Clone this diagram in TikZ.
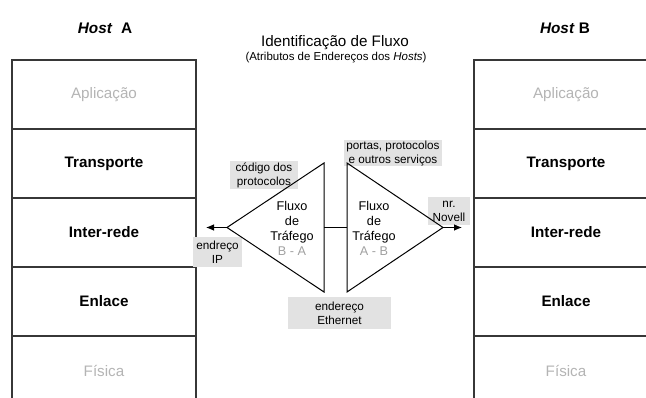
\documentclass[tikz,border=0pt]{standalone}
\usepackage{fontspec}
\setmainfont{Liberation Sans}
\usetikzlibrary{arrows.meta}

\definecolor{layerline}{RGB}{55,55,55}
\definecolor{fadedtext}{RGB}{180,180,180}
\definecolor{dirtext}{RGB}{160,160,160}
\definecolor{tagfill}{RGB}{226,226,226}

\begin{document}
\begin{tikzpicture}[x=0.75pt,y=0.75pt,yscale=-1,
  layer/.style={draw=layerline,line width=0.9,minimum width=138pt,minimum height=51.75pt,inner sep=0pt,font=\fontsize{11.4}{13}\selectfont},
  tag/.style={fill=tagfill,inner sep=0pt,align=center,font=\fontsize{8.8}{10.5}\selectfont},
  flow/.style={align=center,font=\fontsize{9.5}{11.25}\selectfont},
  host/.style={font=\fontsize{11.5}{13}\selectfont\bfseries}]
\useasboundingbox (0,0) rectangle (646,398);
\clip (0,0) rectangle (646,398);

% Host A
\node[host] (hostA) at (105,28) {\textit{Host}\ \ A};
\node[layer,text=fadedtext] (aplA) at (104,94.5) {Aplicação};
\node[layer,font=\fontsize{11.4}{13}\selectfont\bfseries] (trpA) at (104,163.5) {Transporte};
\node[layer,font=\fontsize{11.4}{13}\selectfont\bfseries] (irdA) at (104,232.5) {Inter-rede};
\node[layer,font=\fontsize{11.4}{13}\selectfont\bfseries] (enlA) at (104,301.5) {Enlace};
\node[layer,text=fadedtext] (fisA) at (104,370.5) {Física};

% Host B
\node[host] (hostB) at (565,28) {\textit{Host} B};
\node[layer,text=fadedtext] (aplB) at (566,94.5) {Aplicação};
\node[layer,font=\fontsize{11.4}{13}\selectfont\bfseries] (trpB) at (566,163.5) {Transporte};
\node[layer,font=\fontsize{11.4}{13}\selectfont\bfseries] (irdB) at (566,232.5) {Inter-rede};
\node[layer,font=\fontsize{11.4}{13}\selectfont\bfseries] (enlB) at (566,301.5) {Enlace};
\node[layer,text=fadedtext] (fisB) at (566,370.5) {Física};

% Text Node
\node[font=\fontsize{11.4}{13}\selectfont] (title) at (335,43) {Identificação de Fluxo};
\node[font=\fontsize{8.6}{10}\selectfont] (subtitle) at (336,58) {(Atributos de Endereços dos \textit{Hosts})};

% grey address tags
\node[tag,minimum width=51pt,minimum height=21pt] (tagProto) at (264,175) {código dos\\protocolos};
\node[tag,minimum width=74pt,minimum height=19.5pt] (tagPorts) at (393,153) {portas, protocolos\\e outros serviços};
\node[tag,minimum width=31.5pt,minimum height=21pt] (tagNovell) at (449,211) {nr.\\Novell};
\node[tag,minimum width=37pt,minimum height=22.5pt] (tagIP) at (217.5,252) {endreço\\IP};
\node[tag,minimum width=77pt,minimum height=24pt] (tagEth) at (339.5,313) {endereço\\Ethernet};

% triangles
\coordinate (apexBA) at (227,227.5);
\coordinate (baseBA) at (324,227.5);
\coordinate (apexAB) at (443,227.5);
\coordinate (baseAB) at (347,227.5);
\coordinate (tipIP) at (206,227.5);
\coordinate (tipNovell) at (462,227.5);
\draw[line width=0.75] (apexBA) -- (324,163) -- (324,292) -- cycle;
\draw[line width=0.75] (apexAB) -- (347,163) -- (347,292) -- cycle;
\draw[line width=0.75] (baseBA) -- (baseAB);
\draw[line width=0.75,-{Latex[length=6pt,width=5pt]}] (apexBA) -- (tipIP);
\draw[line width=0.75,-{Latex[length=6pt,width=5pt]}] (apexAB) -- (tipNovell);

% Text Node
\node[flow] (flowBA) at (292,228) {Fluxo\\de\\Tráfego\\\textcolor{dirtext}{B - A}};
\node[flow] (flowAB) at (374,228) {Fluxo\\de\\Tráfego\\\textcolor{dirtext}{A - B}};

\end{tikzpicture}
\end{document}
